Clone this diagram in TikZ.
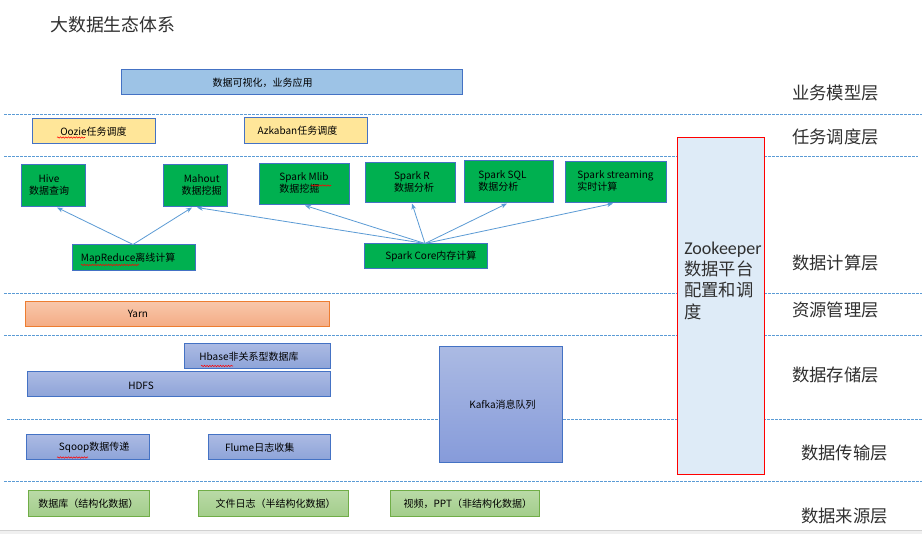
\documentclass[tikz,border=0pt]{standalone}
\usepackage{fontspec}
\setmainfont{Noto Sans CJK SC}
\newfontfamily\latinfont{Carlito}
\usetikzlibrary{arrows.meta,decorations.pathmorphing}
\definecolor{dashcol}{HTML}{5B9BD5}
\definecolor{bordblue}{HTML}{4472C4}
\definecolor{vizfill}{HTML}{9DC3E6}
\definecolor{yelfill}{HTML}{FFE699}
\definecolor{grnfill}{HTML}{00B050}
\definecolor{orgbord}{HTML}{ED7D31}
\definecolor{orgtop}{HTML}{F8C6AA}
\definecolor{orgbot}{HTML}{F4AC84}
\definecolor{bluetop}{HTML}{ABBAE3}
\definecolor{bluebot}{HTML}{8DA3D8}
\definecolor{zkfill}{HTML}{DEEBF7}
\definecolor{srctop}{HTML}{B9DAA6}
\definecolor{srcbot}{HTML}{A2CD8A}
\definecolor{srcbord}{HTML}{70AD47}
\definecolor{labcol}{HTML}{303030}
\tikzset{
  sz/.style 2 args={minimum width=#1*0.75pt, minimum height=#2*0.75pt},
  base/.style={draw=bordblue, line width=0.75pt, inner sep=0pt, font=\fontsize{7.5}{9}\selectfont, text=black},
  viz/.style={base, fill=vizfill},
  yel/.style={base, fill=yelfill},
  grn/.style={base, fill=grnfill, align=center},
  grnl/.style={base, fill=grnfill, align=left},
  org/.style={base, draw=orgbord, top color=orgtop, bottom color=orgbot},
  blu/.style={base, top color=bluetop, bottom color=bluebot},
  src/.style={base, draw=srcbord, top color=srctop, bottom color=srcbot},
  zk/.style={draw=red, line width=0.75pt, fill=zkfill},
  boxtxt/.style={inner sep=0pt, font=\fontsize{7.5}{9}\selectfont, text=black},
  layer/.style={anchor=west, inner sep=0pt, font=\fontsize{13}{15}\selectfont, text=labcol},
  sep/.style={draw=dashcol, line width=0.6pt, dash pattern=on 2pt off 1pt},
  arr/.style={draw=dashcol, line width=0.6pt, -{Stealth[length=4.5pt,width=3.5pt]}},
  squig/.style={draw=red, line width=0.4pt, decorate, decoration={snake, amplitude=0.5pt, segment length=2pt}}
}
\begin{document}
\begin{tikzpicture}[x=0.75pt, y=-0.75pt]
\useasboundingbox (0,0) rectangle (922,534);
\fill[white] (0,0) rectangle (922,534);
% bottom gray band
\fill[black!6] (0,530) rectangle (922,534);
\draw[black!18, line width=1pt] (0,530.5) -- (922,530.5);

% separators
\draw[sep] (4,114) -- (922,114);
\draw[sep] (4,156) -- (918,156);
\draw[sep] (4,293) -- (922,293);
\draw[sep] (4,335) -- (922,335);
\draw[sep] (7,419) -- (922,419);
\draw[sep] (4,481) -- (922,481);

% title
\node[anchor=west, inner sep=0pt, font=\fontsize{13.4}{15}\selectfont, text=labcol] (title) at (50,25) {大数据生态体系};

% layer labels
\node[layer] (l1) at (792,93) {业务模型层};
\node[layer] (l2) at (792,137) {任务调度层};
\node[layer] (l3) at (792,263) {数据计算层};
\node[layer] (l4) at (792,310) {资源管理层};
\node[layer] (l5) at (792,375) {数据存储层};
\node[layer] (l6) at (801,453) {数据传输层};
\node[layer] (l7) at (801,516) {数据来源层};

% business
\node[viz, sz={341}{25}] (viz) at (291.5,82.5) {};
\node[boxtxt] (viztxt) at (262.5,82.5) {数据可视化，业务应用};

% scheduling
\node[yel, sz={123}{25}] (oozie) at (93.5,131.5) {Oozie任务调度};
\node[yel, sz={123}{26}] (azkaban) at (305.5,131) {\hspace*{-12pt}Azkaban任务调度};

% compute
\node[grn, sz={64}{42}] (hive) at (53,186) {\hspace*{-6pt}\begin{tabular}{@{}c@{}}Hive\\数据查询\end{tabular}};
\node[grn, sz={64}{42}] (mahout) at (195,186) {\hspace*{10pt}\begin{tabular}{@{}c@{}}Mahout\\数据挖掘\end{tabular}};
\node[grnl, sz={90}{41}] (mlib) at (304,184.5) {\raisebox{-2pt}{\begin{tabular}{@{}l@{}}Spark Mlib\\数据挖掘\end{tabular}}};
\node[grnl, sz={90}{40}] (sparkr) at (410,183) {\hspace*{6pt}\raisebox{-1.5pt}{\begin{tabular}{@{}l@{}}Spark R\\数据分析\end{tabular}}};
\node[grnl, sz={89}{42}] (sql) at (508.5,182) {\hspace*{-9pt}\begin{tabular}{@{}l@{}}Spark SQL\\数据分析\end{tabular}};
\node[grnl, sz={101}{41}] (stream) at (615.5,182.5) {\begin{tabular}{@{}l@{}}Spark streaming\\实时计算\end{tabular}};
\node[grn, sz={123}{26}] (mr) at (133.5,258) {\hspace*{-8pt}MapReduce离线计算};
\node[grn, sz={123}{25}] (sc) at (425.5,256.5) {\hspace*{8pt}Spark Core内存计算};

\draw[arr] ([xshift=-0.5*0.75pt]mr.north) -- ([xshift=4*0.75pt]hive.south);
\draw[arr] ([xshift=-0.5*0.75pt]mr.north) -- ([xshift=-3*0.75pt]mahout.south);
\draw[arr] ([xshift=-0.5*0.75pt]sc.north) -- ([xshift=2*0.75pt]mahout.south);
\draw[arr] ([xshift=-0.5*0.75pt]sc.north) -- ([xshift=1*0.75pt]mlib.south);
\draw[arr] ([xshift=-0.5*0.75pt]sc.north) -- ([xshift=2*0.75pt]sparkr.south);
\draw[arr] ([xshift=-0.5*0.75pt]sc.north) -- ([xshift=-1.5*0.75pt]sql.south);
\draw[arr] ([xshift=-0.5*0.75pt]sc.north) -- ([xshift=-2.5*0.75pt]stream.south);

% resource
\node[org, sz={304}{25}] (yarn) at (177,314.5) {};
\node[boxtxt] (yarntxt) at (138,314) {Yarn};

% storage
\node[blu, sz={146}{25}] (hbase) at (257,356.5) {\hspace*{-12pt}Hbase非关系型数据库};
\node[blu, sz={303}{25}] (hdfs) at (178.5,384.5) {};
\node[boxtxt] (hdfstxt) at (141,385.5) {HDFS};

% transport
\node[blu, sz={123}{25}] (sqoop) at (87.5,447.5) {\hspace*{10pt}Sqoop数据传递};
\node[blu, sz={122}{25}] (flume) at (269,447.5) {\hspace*{-14pt}Flume日志收集};
\node[blu, sz={123}{116}, top color=bluetop, bottom color=bluebot!95!blue] (kafka) at (500.5,405) {\raisebox{-2pt}{\hspace*{3pt}Kafka消息队列}};

% zookeeper
\node[zk, sz={87}{337}] (zk) at (720.5,306.5) {};
\node[anchor=north west, inner sep=0pt, align=left, font=\fontsize{13}{16}\selectfont, text=labcol] (zktxt) at (684,241.5) {{\latinfont\fontsize{13.5}{16}\selectfont Zookeeper}\\数据平台\\配置和调\\度};

% sources
\node[src, sz={121}{26}] (src1) at (88.5,504) {数据库（结构化数据）};
\node[src, sz={150}{26}] (src2) at (273,504) {\hspace*{4pt}文件日志（半结构化数据）};
\node[src, sz={149}{26}] (src3) at (464.5,504) {\hspace*{5pt}视频，PPT（非结构化数据）};

% spell-check marks
\draw[squig] (57,137.5) -- (85,137.5);
\draw[squig] (81,265) -- (139,265);
\draw[squig] (311,185.5) -- (331,185.5);
\draw[squig] (201,366) -- (233,366);
\draw[squig] (57,457.5) -- (88,457.5);
\end{tikzpicture}
\end{document}
